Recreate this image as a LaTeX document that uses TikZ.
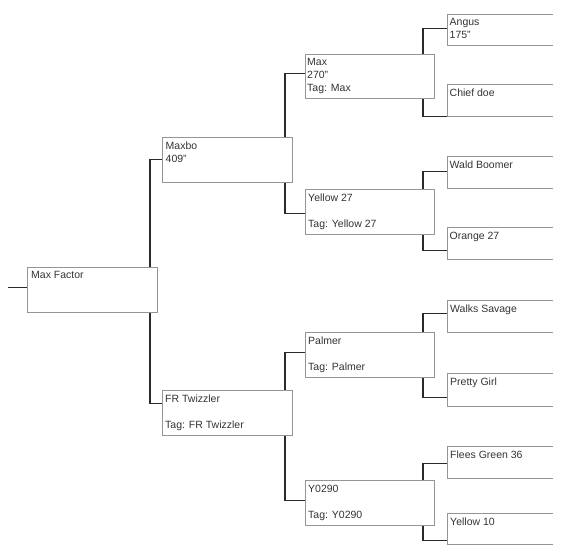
\documentclass[tikz,border=0pt]{standalone}
\usepackage{fontspec}
\setmainfont{Liberation Sans}
\usetikzlibrary{backgrounds}
\definecolor{boxgray}{HTML}{959595}
\definecolor{conncol}{HTML}{2A2A2A}
\definecolor{txtcol}{HTML}{333333}
\tikzset{
  box/.style={draw=boxgray, line width=1pt, fill=white, rectangle, inner sep=0pt, anchor=north west},
  openbox/.style={rectangle, inner sep=0pt, anchor=north west, minimum width=106pt, minimum height=31pt},
  openline/.style={draw=boxgray, line width=1pt},
  conn/.style={draw=conncol, line width=1.3pt},
  lbl/.style={anchor=north west, inner sep=0pt, align=left, text=txtcol, font=\fontsize{10.5}{13}\selectfont},
}
\begin{document}
\begin{tikzpicture}[x=1pt,y=-1pt]
\useasboundingbox (0,0) rectangle (587,558);
% main boxes
\node[box, minimum width=130pt, minimum height=45pt] (mf) at (27,267) {};
\node[box, minimum width=130pt, minimum height=45pt] (maxbo) at (162,137) {};
\node[box, minimum width=130pt, minimum height=45pt] (fr) at (162,390) {};
\node[box, minimum width=129pt, minimum height=44pt] (mx) at (305,54) {};
\node[box, minimum width=129pt, minimum height=45pt] (y27) at (305,189) {};
\node[box, minimum width=129pt, minimum height=45pt] (pal) at (305,332) {};
\node[box, minimum width=129pt, minimum height=45pt] (y0) at (305,480) {};
% open boxes (right column)
\node[openbox] (angus) at (447,14) {};
\node[openbox, minimum height=32pt] (chief) at (447,84) {};
\node[openbox, minimum height=32pt] (wald) at (447,156) {};
\node[openbox, minimum height=32pt] (orange) at (447,227) {};
\node[openbox, minimum height=32pt] (walks) at (447,300) {};
\node[openbox, minimum height=33pt] (pretty) at (447,373) {};
\node[openbox, minimum height=32pt] (flees) at (447,446) {};
\node[openbox, minimum height=31pt] (ytn) at (447,513) {};
\foreach \n in {angus,chief,wald,orange,walks,pretty,flees,ytn}{
  \draw[openline] (\n.north east) -- (\n.north west) -- (\n.south west) -- (\n.south east);
}
% texts
\node[lbl] (tmf) at ([xshift=4pt,yshift=-4.5pt]mf.north west) {Max Factor};
\node[lbl] (tmaxbo) at ([xshift=3.5pt,yshift=-4.5pt]maxbo.north west) {Maxbo\\409"};
\node[lbl] (tfr) at ([xshift=3pt,yshift=-4.5pt]fr.north west) {FR Twizzler\\[13pt]Tag: FR Twizzler};
\node[lbl] (tmx) at ([xshift=2pt,yshift=-4.5pt]mx.north west) {Max\\270"\\Tag: Max};
\node[lbl] (ty27) at ([xshift=3pt,yshift=-4.5pt]y27.north west) {Yellow 27\\[13pt]Tag: Yellow 27};
\node[lbl] (tpal) at ([xshift=3pt,yshift=-4.5pt]pal.north west) {Palmer\\[13pt]Tag: Palmer};
\node[lbl] (ty0) at ([xshift=3pt,yshift=-4.5pt]y0.north west) {Y0290\\[13pt]Tag: Y0290};
\node[lbl] (tangus) at ([xshift=2.5pt,yshift=-4.5pt]angus.north west) {Angus\\175"};
\node[lbl] (tchief) at ([xshift=2.5pt,yshift=-4.5pt]chief.north west) {Chief doe};
\node[lbl] (twald) at ([xshift=2.5pt,yshift=-4.5pt]wald.north west) {Wald Boomer};
\node[lbl] (torange) at ([xshift=2.5pt,yshift=-4.5pt]orange.north west) {Orange 27};
\node[lbl] (twalks) at ([xshift=3pt,yshift=-4.5pt]walks.north west) {Walks Savage};
\node[lbl] (tpretty) at ([xshift=3pt,yshift=-4.5pt]pretty.north west) {Pretty Girl};
\node[lbl] (tflees) at ([xshift=3pt,yshift=-4.5pt]flees.north west) {Flees Green 36};
\node[lbl] (tytn) at ([xshift=3pt,yshift=-4.5pt]ytn.north west) {Yellow 10};
% connectors
\begin{pgfonlayer}{background}
\coordinate (lead) at ([yshift=2.5pt,xshift=-19pt]mf.west);
\draw[conn] ([yshift=2.5pt]mf.west) -- (lead);
\draw[conn] ([yshift=0.5pt]maxbo.west) -- ++(-12,0) |- ([yshift=9.5pt]fr.west);
\draw[conn] ([yshift=3pt]mx.west) -- ++(-20,0) |- ([yshift=-1.5pt]y27.west);
\draw[conn] ([yshift=2.5pt]pal.west) -- ++(-20,0) |- ([yshift=2.5pt]y0.west);
\draw[conn] ([yshift=1.5pt]angus.west) -- ++(-24,0) |- ([yshift=-16pt]chief.west);
\draw[conn] ([yshift=1pt]wald.west) -- ++(-24,0) |- ([yshift=-7pt]orange.west);
\draw[conn] ([yshift=3pt]walks.west) -- ++(-24,0) |- ([yshift=-7.5pt]pretty.west);
\draw[conn] ([yshift=-1pt]flees.west) -- ++(-24,0) |- ([yshift=-11.5pt]ytn.west);
\end{pgfonlayer}
\end{tikzpicture}
\end{document}
